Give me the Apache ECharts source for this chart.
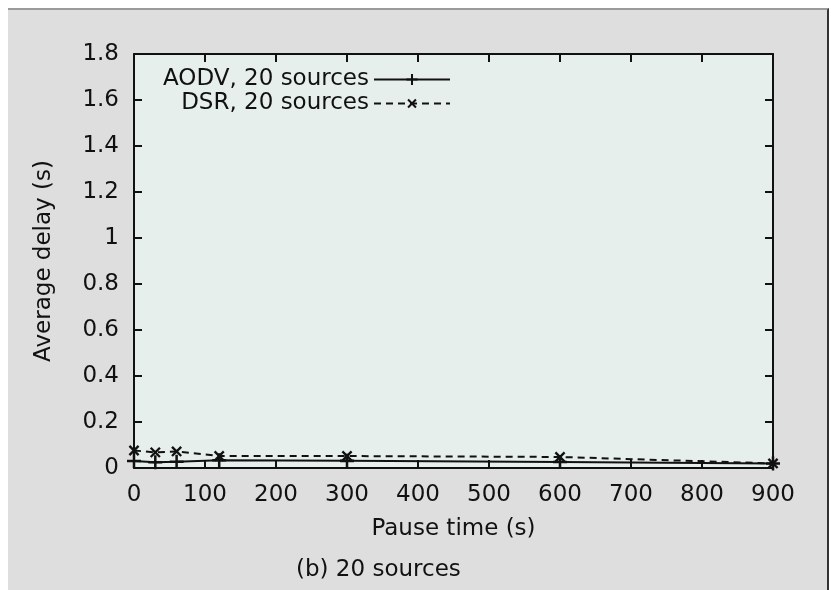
<!DOCTYPE html>
<html>
<head>
<meta charset="utf-8">
<script src="https://cdn.jsdelivr.net/npm/echarts@6/dist/echarts.min.js"></script>
<style>
  html, body { margin: 0; padding: 0; background: #ffffff; }
  #panel { position: absolute; left: 8px; top: 8px; width: 819px; height: 582px;
           background: #dedede; border-top: 2px solid #9a9a9a; border-right: 2px solid #333; }
  #chart { position: absolute; left: 0; top: 0; width: 831px; height: 590px; }
</style>
</head>
<body>
<div id="panel"></div>
<div id="chart"></div>
<script>
// Data
const pauseTimes = [0, 30, 60, 120, 300, 600, 900];
const aodvDelay  = [0.030, 0.025, 0.027, 0.034, 0.031, 0.026, 0.020];
const dsrDelay   = [0.076, 0.068, 0.072, 0.052, 0.052, 0.048, 0.020];
const seriesNames = ['AODV, 20 sources', 'DSR, 20 sources'];
const xTicks = [0, 100, 200, 300, 400, 500, 600, 700, 800, 900];
const yTicks = [0, 0.2, 0.4, 0.6, 0.8, 1, 1.2, 1.4, 1.6, 1.8];

const FONT = 'DejaVu Sans';
const FS = 23;
const plusPath = 'path://M4.1,0h1.8v10h-1.8zM0,4.1h10v1.8h-10z';

const chart = echarts.init(document.getElementById('chart'), null, { renderer: 'canvas' });

const axisCommon = {
  type: 'value',
  axisLine: { show: true, onZero: false, lineStyle: { color: '#111', width: 2 } },
  axisTick: { show: true, inside: true, length: 8, lineStyle: { color: '#111', width: 2 } },
  splitLine: { show: false }
};

chart.setOption({
  backgroundColor: 'transparent',
  animation: false,
  textStyle: { fontFamily: FONT },
  grid: { left: 134, right: 58, top: 54, bottom: 122, show: true,
          backgroundColor: '#e6efec', borderColor: '#111', borderWidth: 0 },
  legend: {
    orient: 'vertical', align: 'right', right: 375, top: 63,
    itemWidth: 76, itemHeight: 14, itemGap: 1,
    textStyle: { fontFamily: FONT, fontSize: FS, color: '#111' },
    data: seriesNames
  },
  xAxis: [
    Object.assign({}, axisCommon, {
      min: xTicks[0], max: xTicks[xTicks.length - 1], interval: 100,
      position: 'bottom',
      axisLabel: { fontSize: FS, color: '#111', margin: 16, fontFamily: FONT },
      name: 'Pause time (s)', nameLocation: 'middle', nameGap: 50,
      nameTextStyle: { fontSize: FS, color: '#111', fontFamily: FONT }
    }),
    Object.assign({}, axisCommon, {
      min: xTicks[0], max: xTicks[xTicks.length - 1], interval: 100,
      position: 'top', axisLabel: { show: false }
    })
  ],
  yAxis: [
    Object.assign({}, axisCommon, {
      min: yTicks[0], max: yTicks[yTicks.length - 1], interval: 0.2,
      position: 'left',
      axisLabel: { fontSize: FS, color: '#111', margin: 15, fontFamily: FONT },
      name: 'Average delay (s)', nameLocation: 'middle', nameGap: 78,
      nameTextStyle: { fontSize: FS, color: '#111', fontFamily: FONT }
    }),
    Object.assign({}, axisCommon, {
      min: yTicks[0], max: yTicks[yTicks.length - 1], interval: 0.2,
      position: 'right', axisLabel: { show: false }
    })
  ],
  graphic: [{
    type: 'text', left: 296, top: 559,
    style: { text: '(b) 20 sources', fontSize: FS, fill: '#111', fontFamily: FONT }
  }],
  series: [
    {
      name: seriesNames[0], type: 'line',
      data: pauseTimes.map((x, i) => [x, aodvDelay[i]]),
      symbol: plusPath, symbolSize: 14,
      lineStyle: { color: '#111', width: 2 },
      itemStyle: { color: '#111' }
    },
    {
      name: seriesNames[1], type: 'line',
      data: pauseTimes.map((x, i) => [x, dsrDelay[i]]),
      symbol: plusPath, symbolSize: 13, symbolRotate: 45,
      lineStyle: { color: '#111', width: 2, type: [7, 5] },
      itemStyle: { color: '#111' }
    }
  ]
});
</script>
</body>
</html>
